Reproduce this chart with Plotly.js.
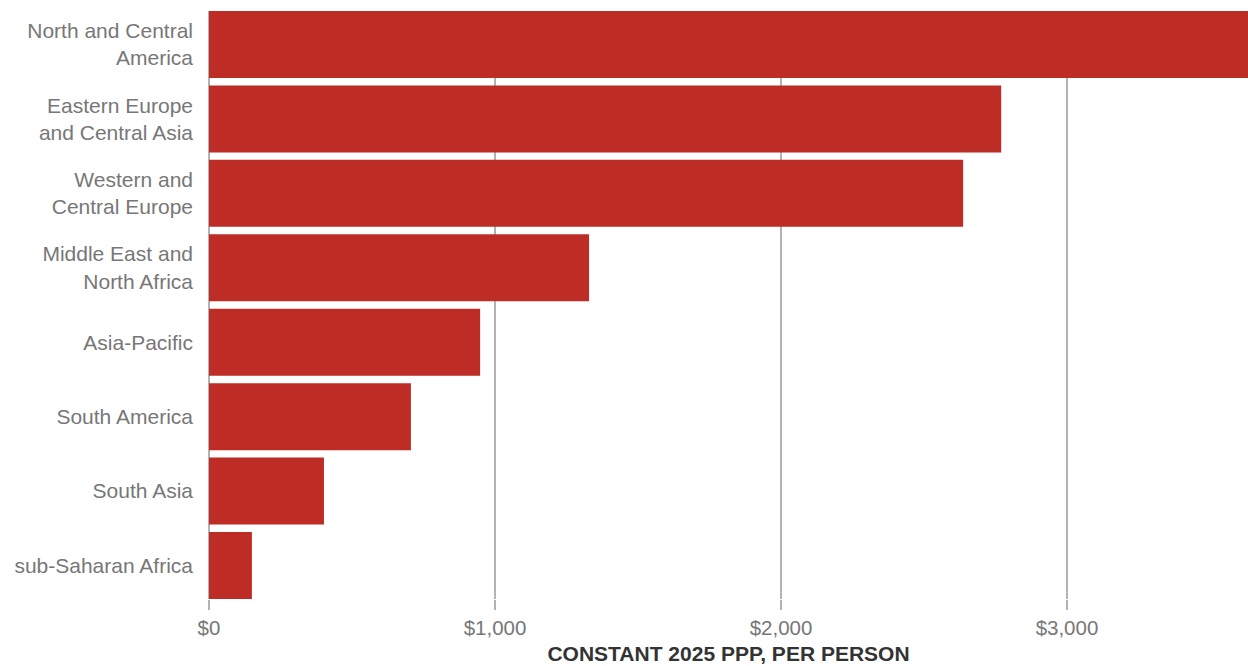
<!DOCTYPE html>
<html>
<head>
<meta charset="utf-8">
<script src="https://cdn.plot.ly/plotly-3.0.1.min.js"></script>
<style>html,body{margin:0;padding:0;background:#fff;}#chart{width:1248px;height:666px;}</style>
</head>
<body>
<div id="chart"></div>
<script>
const regions = [
  "North and Central<br>America",
  "Eastern Europe<br>and Central Asia",
  "Western and<br>Central Europe",
  "Middle East and<br>North Africa",
  "Asia-Pacific",
  "South America",
  "South Asia",
  "sub-Saharan Africa"
];
const values = [3650, 2770, 2637, 1329, 948, 706, 402, 150];
const xTickValues = [0, 1000, 2000, 3000];
const xTickLabels = ["$0", "$1,000", "$2,000", "$3,000"];
const xTitle = "CONSTANT 2025 PPP, PER PERSON";

const trace = {
  type: "bar",
  orientation: "h",
  y: regions,
  x: values,
  marker: {color: "#BE2D25", line: {width: 0}},
  hoverinfo: "skip"
};

const layout = {
  width: 1248,
  height: 666,
  margin: {l: 209, r: 0, t: 11, b: 67, pad: 0},
  paper_bgcolor: "#fff",
  plot_bgcolor: "#fff",
  bargap: 0.1,
  showlegend: false,
  font: {family: "Liberation Sans, Arial, sans-serif", size: 20, color: "#777"},
  xaxis: {
    range: [0, 3633],
    tickvals: xTickValues,
    ticktext: xTickLabels,
    showgrid: true,
    gridcolor: "#b3b3b3",
    gridwidth: 1.5,
    zeroline: true,
    zerolinecolor: "#b3b3b3",
    zerolinewidth: 1.5,
    ticks: "outside",
    ticklen: 10,
    tickwidth: 1.5,
    tickcolor: "#b3b3b3",
    showline: false,
    tickfont: {size: 20.5, color: "#777"},
    title: {text: xTitle, font: {size: 21, color: "#333", family: "Liberation Sans, Arial, sans-serif", weight: "bold"}, standoff: 8}
  },
  yaxis: {
    autorange: false,
    range: [7.45, -0.45],
    type: "category",
    showgrid: false,
    zeroline: false,
    showline: false,
    ticks: "",
    ticklabelstandoff: 15,
    tickfont: {size: 21, color: "#777"}
  }
};

Plotly.newPlot("chart", [trace], layout, {displayModeBar: false, staticPlot: true});
</script>
</body>
</html>
